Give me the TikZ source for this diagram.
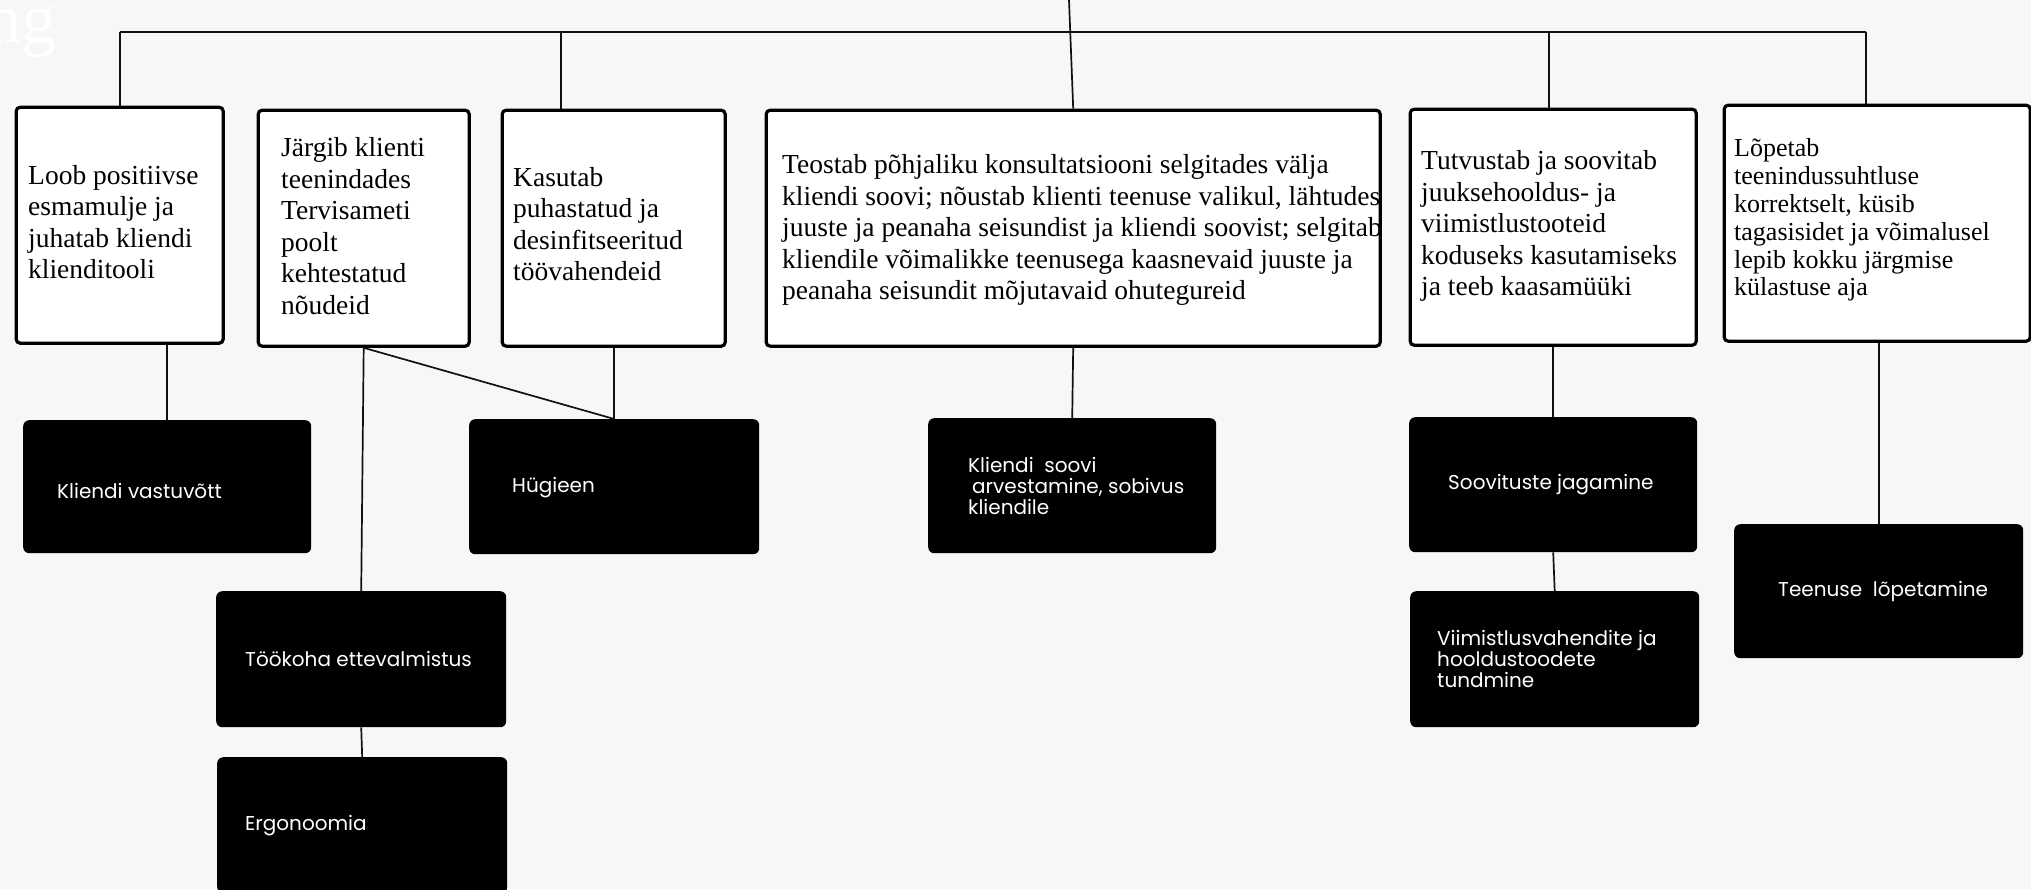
\documentclass[tikz,border=0pt]{standalone}
\usepackage{fontspec}
\setmainfont{Liberation Serif}
\newfontfamily\sansf{Poppins}
\usetikzlibrary{calc}
\definecolor{bgc}{HTML}{F7F7F7}
\definecolor{linec}{HTML}{111111}
\tikzset{
  wbox/.style={draw=black, line width=3.2pt, fill=white, rounded corners=4pt,
    anchor=north west, inner sep=0pt},
  wtext/.style={anchor=west, align=left, inner sep=0pt,
    font=\fontsize{27.5}{31.5}\selectfont},
  bbox/.style={fill=black, rounded corners=6pt, anchor=north west, inner sep=0pt},
  btext/.style={anchor=west, align=left, inner sep=0pt, text=white,
    font=\sansf\fontsize{20}{21}\selectfont},
  conn/.style={draw=linec, line width=1.7pt}
}
\begin{document}
\begin{tikzpicture}[x=1pt,y=-1pt]
\fill[bgc] (0,0) rectangle (2031,889);
\useasboundingbox (0,0) rectangle (2031,889);
\node[anchor=base east, text=white, font=\fontsize{70}{70}\selectfont, inner sep=0pt] (ng) at (57,42) {ng};

% white boxes
\node[wbox, minimum width=207pt, minimum height=236pt] (b1) at (14.6,105.6) {};
\node[wtext] (t1) at ($(b1.west)+(13.4,-3)$)
  {Loob positiivse\\esmamulje ja\\juhatab kliendi\\klienditooli};
\node[wbox, minimum width=211pt, minimum height=236pt] (b2) at (256.6,108.6) {};
\node[wtext] (t2) at ($(b2.west)+(24.4,-2)$)
  {Järgib klienti\\teenindades\\Tervisameti\\poolt\\kehtestatud\\nõudeid};
\node[wbox, minimum width=223pt, minimum height=236pt] (b3) at (500.6,108.6) {};
\node[wtext] (t3) at ($(b3.west)+(12.4,-4)$)
  {Kasutab\\puhastatud ja\\desinfitseeritud\\töövahendeid};
\node[wbox, minimum width=614pt, minimum height=236pt] (b4) at (764.6,108.6) {};
\node[wtext] (t4) at ($(b4.west)+(17.4,2)$)
  {Teostab põhjaliku konsultatsiooni selgitades välja\\kliendi soovi; nõustab klienti teenuse valikul, lähtudes\\juuste ja peanaha seisundist ja kliendi soovist; selgitab\\kliendile võimalikke teenusega kaasnevaid juuste ja\\peanaha seisundit mõjutavaid ohutegureid};
\node[wbox, minimum width=286pt, minimum height=236pt] (b5) at (1408.6,107.6) {};
\node[wtext] (t5) at ($(b5.west)+(12.4,-1)$)
  {Tutvustab ja soovitab\\juuksehooldus- ja\\viimistlustooteid\\koduseks kasutamiseks\\ja teeb kaasamüüki};
\node[wbox, minimum width=306pt, minimum height=236pt] (b6) at (1722.6,103.6) {};
\node[wtext, font=\fontsize{26}{27.8}\selectfont] (t6) at ($(b6.west)+(11.4,-3)$)
  {Lõpetab\\teenindussuhtluse\\korrektselt, küsib\\tagasisidet ja võimalusel\\lepib kokku järgmise\\külastuse aja};

% black boxes
\node[bbox, minimum width=288pt, minimum height=133pt] (kv) at (23,420) {};
\node[btext] (tkv) at ($(kv.west)+(34,4)$) {Kliendi vastuvõtt};
\node[bbox, minimum width=290pt, minimum height=135pt] (hy) at (469,419) {};
\node[btext] (thy) at ($(hy.west)+(43,1)$) {Hügieen};
\node[bbox, minimum width=290pt, minimum height=136pt] (tk) at (216,591) {};
\node[btext] (ttk) at ($(tk.west)+(29,0)$) {Töökoha ettevalmistus};
\node[bbox, minimum width=290pt, minimum height=136pt] (er) at (217,757) {};
\node[btext] (ter) at ($(er.west)+(28,0)$) {Ergonoomia};
\node[bbox, minimum width=288pt, minimum height=135pt] (ks) at (928,418) {};
\node[btext] (tks) at ($(ks.west)+(40,0)$)
  {Kliendi\ \ soovi\\\hspace*{4pt}arvestamine, sobivus\\kliendile};
\node[bbox, minimum width=288pt, minimum height=135pt] (sj) at (1409,417) {};
\node[btext] (tsj) at ($(sj.west)+(39,0)$) {Soovituste jagamine};
\node[bbox, minimum width=289pt, minimum height=136pt] (vv) at (1410,591) {};
\node[btext] (tvv) at ($(vv.west)+(27,0)$)
  {Viimistlusvahendite ja\\hooldustoodete\\tundmine};
\node[bbox, minimum width=289pt, minimum height=134pt] (tl) at (1734,524) {};
\node[btext] (ttl) at ($(tl.west)+(44,0)$) {Teenuse\ \ lõpetamine};

% connectors
\coordinate (top) at (1069,0);
\coordinate (busL) at (b1.north |- 0,32);
\coordinate (bus3) at (561,32);
\coordinate (bus5) at (1549,32);
\coordinate (busR) at (1866,32);
\draw[conn] (busL) -- (busR);
\draw[conn] (top) -- (b4.north);
\draw[conn] (busL) -- (b1.north);
\draw[conn] (bus3) -- (bus3 |- b3.north);
\draw[conn] (bus5) -- (bus5 |- b5.north);
\draw[conn] (busR) -- (busR |- b6.north);
\draw[conn] (kv.north) -- (kv.north |- b1.south);
\draw[conn] (b2.south) -- (tk.north);
\draw[conn] (b2.south) -- (hy.north);
\draw[conn] (hy.north |- b3.south) -- (hy.north);
\draw[conn] (tk.south) -- (er.north);
\draw[conn] (b4.south) -- (ks.north);
\draw[conn] (b5.south) -- (sj.north);
\draw[conn] (sj.south) -- (vv.north);
\draw[conn] (tl.north |- b6.south) -- (tl.north);
\end{tikzpicture}
\end{document}
